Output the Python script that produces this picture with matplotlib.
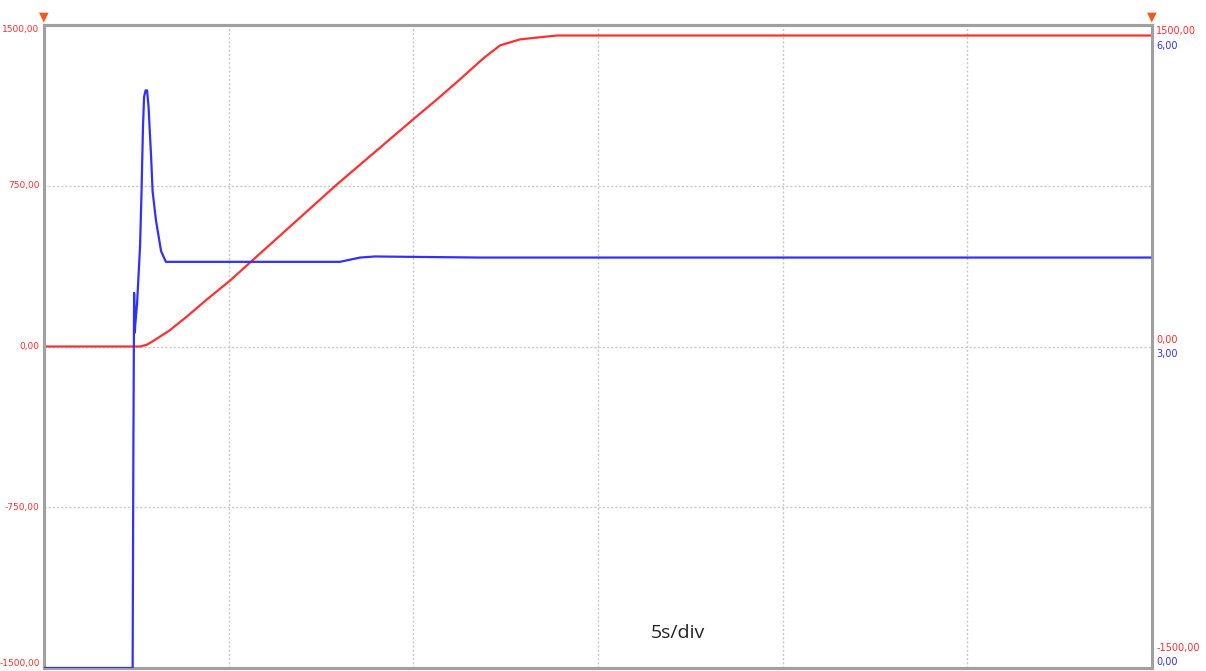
import matplotlib
matplotlib.use("Agg")
import matplotlib.pyplot as plt

# red trace (left axis) - time in s, value
red_t = [0.0, 2.44, 2.60, 2.78, 2.95, 3.40, 3.87, 4.40, 5.04, 5.58, 7.93, 9.99, 10.64, 11.26, 11.90,
         12.35, 12.89, 13.89, 29.95]
red_v = [0.0, 0.0, 0.0, 8, 25, 75, 140, 218, 308, 392, 756, 1059, 1153, 1246, 1345,
         1405, 1433, 1451, 1451]

# blue trace (right axis)
blue_t = [0.0, 2.40, 2.42, 2.44, 2.46, 2.47, 2.52, 2.60, 2.64, 2.68, 2.71, 2.75, 2.79, 2.83,
          2.90, 2.94, 3.03, 3.17, 3.30, 8.01, 8.56, 8.96, 11.8, 29.95]
blue_v = [0.0, 0.0, 2.06, 3.50, 3.13, 3.20, 3.40, 3.93, 4.43, 5.05, 5.33, 5.39, 5.39, 5.24,
          4.77, 4.45, 4.18, 3.89, 3.79, 3.79, 3.83, 3.84, 3.83, 3.83]

left_ticks = [1500, 750, 0, -750, -1500]
left_labels = ['1500,00', '750,00', '0,00', '-750,00', '-1500,00']

red = '#ff3030'
blue = '#3030ff'
frame = '#a0a0a0'

fig = plt.figure(figsize=(12.06, 6.71), dpi=100)
ax = fig.add_axes([44 / 1206, 3 / 671, 1108 / 1206, 643 / 671])
ax2 = ax.twinx()

ax.plot(red_t, red_v, color=red, lw=1.6, zorder=3)
ax2.plot(blue_t, blue_v, color=blue, lw=1.6, zorder=3)

ax.set_xlim(0, 30)
ax.set_ylim(-1500, 1500)
ax2.set_ylim(0, 6)

ax.set_xticks([5, 10, 15, 20, 25])
ax.set_yticks([750, 0, -750])
ax.tick_params(length=0, labelbottom=False, labelleft=False)
ax2.tick_params(length=0, labelright=False)
ax2.set_yticks([])
ax.grid(True, color='#c8c8c8', linestyle=(0, (1.5, 1.5)), lw=1)

for ax_ in (ax, ax2):
    for s in ax_.spines.values():
        s.set_color(frame)
        s.set_linewidth(2.2)

# left labels
for v, lab in zip(left_ticks, left_labels):
    va = 'center'
    if v == 1500:
        va = 'top'
    elif v == -1500:
        va = 'bottom'
    ax.text(-0.004, v, lab, transform=ax.get_yaxis_transform(), ha='right', va=va,
            fontsize=6.5, color=red)

# right labels (red over blue)
ytr = ax.get_yaxis_transform()
ax.text(1.004, 1470, '1500,00', transform=ytr, ha='left', va='center', fontsize=7, color=red)
ax.text(1.004, 1400, '6,00', transform=ytr, ha='left', va='center', fontsize=7, color=blue)
ax.text(1.004, 28, '0,00', transform=ytr, ha='left', va='center', fontsize=7, color=red)
ax.text(1.004, -37, '3,00', transform=ytr, ha='left', va='center', fontsize=7, color=blue)
ax.text(1.004, -1405, '-1500,00', transform=ytr, ha='left', va='center', fontsize=7, color=red)
ax.text(1.004, -1470, '0,00', transform=ytr, ha='left', va='center', fontsize=7, color=blue)

# trigger markers
for xm in (0, 1):
    fig.text(44 / 1206 + xm * 1108 / 1206, 1 - 17 / 671, '\u25BC', ha='center', va='center',
             fontsize=9, color='#f05a22', family='DejaVu Sans')

ax.text(0.572, 0.055, '5s/div', transform=ax.transAxes, ha='center', va='center',
        fontsize=14, color='#222222', family='Open Sans')

fig.savefig('out.png', dpi=100)
